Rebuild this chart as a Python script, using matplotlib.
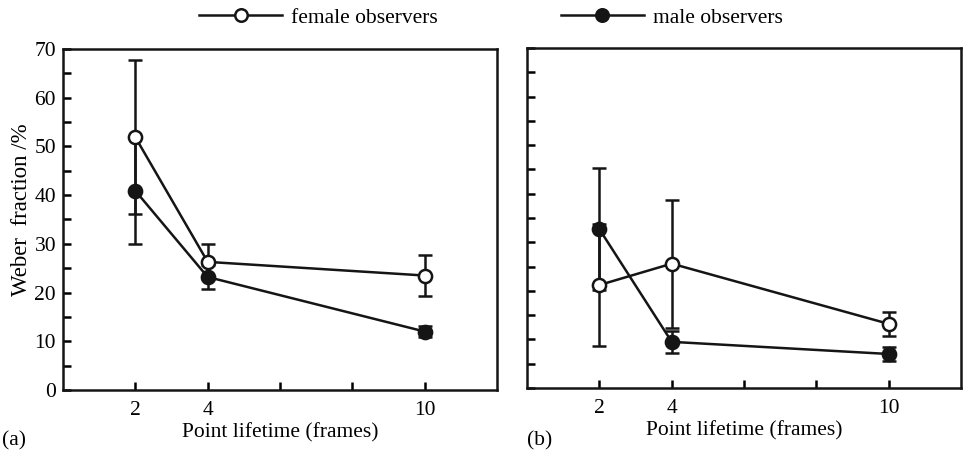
import matplotlib

matplotlib.use("Agg")
import matplotlib.pyplot as plt
from matplotlib.lines import Line2D

plt.rcParams["font.family"] = ["Liberation Serif", "DejaVu Serif"]
plt.rcParams["font.size"] = 15.5

lifetimes = [2, 4, 10]

# panel (a)
female_a = [51.9, 26.3, 23.5]
female_a_err = [15.8, 3.6, 4.2]
male_a = [40.9, 23.2, 12.0]
male_a_err = [11.0, 2.4, 1.2]

# panel (b)
female_b = [21.2, 25.6, 13.2]
female_b_err = [12.5, 13.2, 2.4]
male_b = [32.7, 9.5, 7.0]
male_b_err = [12.5, 2.3, 1.4]

x_ticks = [2, 4, 6, 8, 10]
x_ticklabels = ["2", "4", "", "", "10"]

INK = "#151515"
LW = 1.8

fig = plt.figure(figsize=(9.63, 4.57), dpi=100)
ax_a = fig.add_axes([0.0654, 0.1466, 0.4507, 0.7462])
ax_b = fig.add_axes([0.5473, 0.1510, 0.4507, 0.7440])


def draw_panel(ax, female, female_err, male, male_err):
    common = dict(color=INK, lw=LW, elinewidth=LW, capsize=5,
                  capthick=LW, markersize=9.5, markeredgewidth=LW)
    ax.errorbar(lifetimes, male, yerr=male_err, marker="o",
                markerfacecolor=INK, zorder=3, **common)
    ax.errorbar(lifetimes, female, yerr=female_err, marker="o",
                markerfacecolor="white", zorder=4, **common)
    ax.set_xlim(0, 12)
    ax.set_ylim(0, 70)
    ax.set_xticks(x_ticks)
    ax.set_xticklabels(x_ticklabels)
    ax.set_yticks(range(0, 71, 10))
    ax.set_yticks(range(5, 70, 10), minor=True)
    ax.tick_params(axis="both", which="both", direction="in", width=LW,
                   length=6, top=False, right=False, pad=5)
    ax.tick_params(axis="x", pad=8)
    for s in ax.spines.values():
        s.set_linewidth(LW)
        s.set_color(INK)
    ax.set_xlabel("Point lifetime (frames)", labelpad=2)


draw_panel(ax_a, female_a, female_a_err, male_a, male_a_err)
draw_panel(ax_b, female_b, female_b_err, male_b, male_b_err)
ax_a.set_ylabel("Weber  fraction /%", fontsize=16.5)
ax_a.yaxis.set_label_coords(-0.071, 0.53)
ax_b.set_yticklabels([])

fig.text(0.002, 0.025, "(a)", fontsize=15.5)
fig.text(0.5473, 0.025, "(b)", fontsize=15.5)

h_f = Line2D([], [], color=INK, lw=LW, marker="o", markersize=9,
             markerfacecolor="white", markeredgewidth=LW)
h_m = Line2D([], [], color=INK, lw=LW, marker="o", markersize=9,
             markerfacecolor=INK, markeredgewidth=LW)
fig.legend([h_f, h_m], ["female observers", "male observers"], loc="upper center",
           bbox_to_anchor=(0.51, 1.025), ncol=2, frameon=False, handlelength=3.86,
           columnspacing=5.7, handletextpad=0.42, fontsize=15.5)

fig.savefig("out.png", dpi=100)
